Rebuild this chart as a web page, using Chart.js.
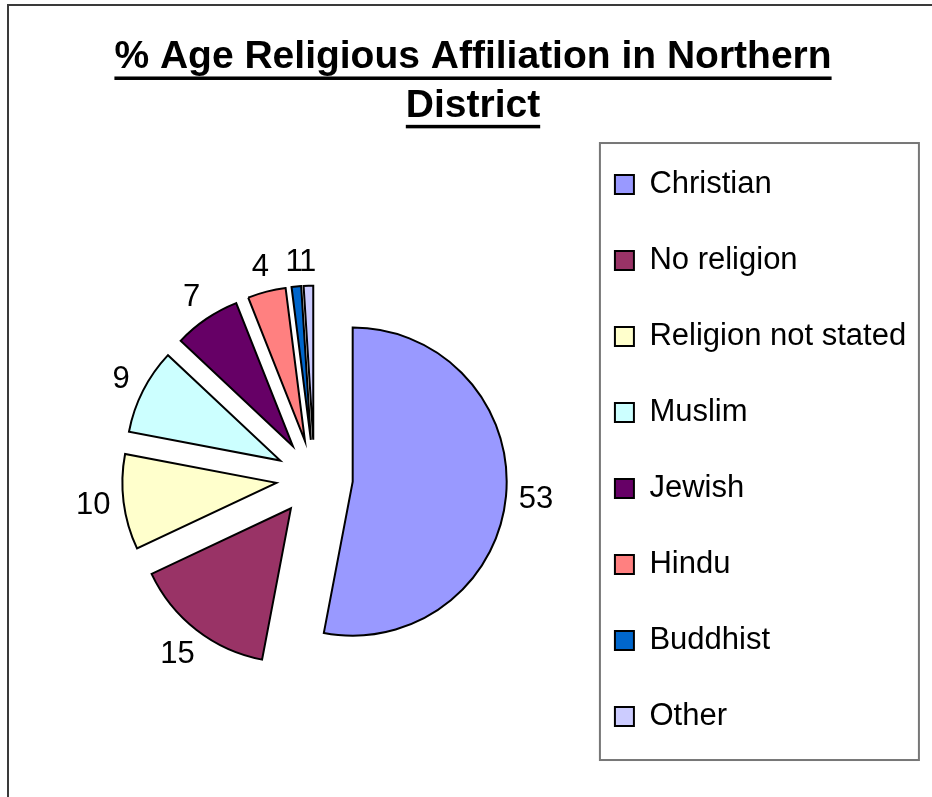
<!DOCTYPE html>
<html lang="en">
<head>
<meta charset="UTF-8">
<title>% Age Religious Affiliation in Northern District</title>
<style>
    body {
        margin: 0;
        width: 932px;
        height: 797px;
        overflow: hidden;
        position: relative;
        background: #fff;
    }
    .frame {
        position: absolute;
        left: 7px;
        top: 4px;
        width: 1000px;
        height: 1000px;
        border: 2px solid #3a3a3a;
    }
    #pieChart {
        position: absolute;
        left: 0;
        top: 0;
    }
</style>
<script src="https://cdn.jsdelivr.net/npm/chart.js"></script>
</head>
<body>
<div class="frame"></div>
<canvas id="pieChart" width="932" height="840"></canvas>

<script>
    // data (percentages)
    const religions = ['Christian', 'No religion', 'Religion not stated', 'Muslim', 'Jewish', 'Hindu', 'Buddhist', 'Other'];
    const percentages = [53, 15, 10, 9, 7, 4, 1, 1];
    const sliceColours = ['#9999FF', '#993366', '#FFFFCC', '#CCFFFF', '#660066', '#FF8080', '#0066CC', '#CCCCFF'];
    const titleLines = ['% Age Religious Affiliation in Northern', 'District'];

    const FONT = '"Liberation Sans", Arial, sans-serif';
    const explode = 38.4;      // how far each slice is pulled out (px)
    const pieRadius = 154;
    const titleSize = 39;
    const titleLineHeight = 1.24;
    const titlePadTop = 33.3;

    // pull every slice out along its middle angle (Excel style explode)
    const explodeSlices = {
        id: 'explodeSlices',
        afterDatasetsUpdate(chart) {
            chart.getDatasetMeta(0).data.forEach(arc => {
                const a = (arc.startAngle + arc.endAngle) / 2;
                arc.x += Math.cos(a) * explode;
                arc.y += Math.sin(a) * explode;
            });
        }
    };

    // value labels outside each slice
    const sliceLabels = {
        id: 'sliceLabels',
        afterDatasetsDraw(chart) {
            const ctx = chart.ctx;
            const meta = chart.getDatasetMeta(0);
            ctx.save();
            ctx.font = '31px ' + FONT;
            ctx.fillStyle = '#000';
            ctx.textAlign = 'center';
            ctx.textBaseline = 'middle';
            meta.data.forEach((arc, i) => {
                const a = (arc.startAngle + arc.endAngle) / 2;
                const text = String(percentages[i]);
                const w = ctx.measureText(text).width;
                const half = Math.abs(Math.cos(a)) * w / 2 + Math.abs(Math.sin(a)) * 11;
                const d = arc.outerRadius + 12 + half;
                ctx.fillText(text, arc.x + Math.cos(a) * d, arc.y + Math.sin(a) * d);
            });
            ctx.restore();
        }
    };

    // box round the legend
    const legendFrame = {
        id: 'legendFrame',
        afterDraw(chart) {
            const lg = chart.legend;
            const pad = lg.options.labels.padding;
            const ctx = chart.ctx;
            ctx.save();
            ctx.strokeStyle = '#777';
            ctx.lineWidth = 2;
            ctx.strokeRect(lg.left + 30, lg.top + pad - 26, 319, 617);
            ctx.restore();
        }
    };

    // underline under each title line
    const titleUnderline = {
        id: 'titleUnderline',
        afterDraw(chart) {
            const tb = chart.titleBlock;
            const ctx = chart.ctx;
            const lh = titleSize * titleLineHeight;
            const cx = (tb.left + tb.right) / 2;
            let y = tb.top + titlePadTop + lh / 2;
            ctx.save();
            ctx.font = 'bold ' + titleSize + 'px ' + FONT;
            ctx.fillStyle = '#000';
            titleLines.forEach(line => {
                const w = ctx.measureText(line).width;
                ctx.fillRect(cx - w / 2, y + 19, w, 3.5);
                y += lh;
            });
            ctx.restore();
        }
    };

    const ctx = document.getElementById('pieChart').getContext('2d');
    const chart = new Chart(ctx, {
        type: 'pie',
        data: {
            labels: religions,
            datasets: [{
                data: percentages,
                backgroundColor: sliceColours,
                borderColor: '#000',
                borderWidth: 2,
                borderJoinStyle: 'miter',
                hoverOffset: 0
            }]
        },
        options: {
            responsive: false,
            animation: false,
            events: [],
            radius: pieRadius,
            layout: {
                padding: { left: 29.8, right: 15.8, top: 0, bottom: 8 }
            },
            plugins: {
                title: {
                    display: true,
                    text: titleLines,
                    color: '#000',
                    font: { family: FONT, size: titleSize, weight: 'bold', lineHeight: titleLineHeight },
                    padding: { top: titlePadTop, bottom: -6 }
                },
                // empty box on the left, only there to push the pie away from the title centre
                subtitle: {
                    display: true,
                    position: 'left',
                    text: '',
                    font: { size: 1, lineHeight: 1 },
                    padding: { top: 28.2, bottom: 0 }
                },
                legend: {
                    position: 'right',
                    align: 'start',
                    fullSize: false,
                    maxWidth: 420,
                    labels: {
                        color: '#000',
                        font: { family: FONT, size: 31 },
                        boxWidth: 19,
                        boxHeight: 19,
                        padding: 45
                    }
                },
                tooltip: { enabled: false }
            }
        },
        plugins: [explodeSlices, sliceLabels, legendFrame, titleUnderline]
    });
</script>
</body>
</html>
